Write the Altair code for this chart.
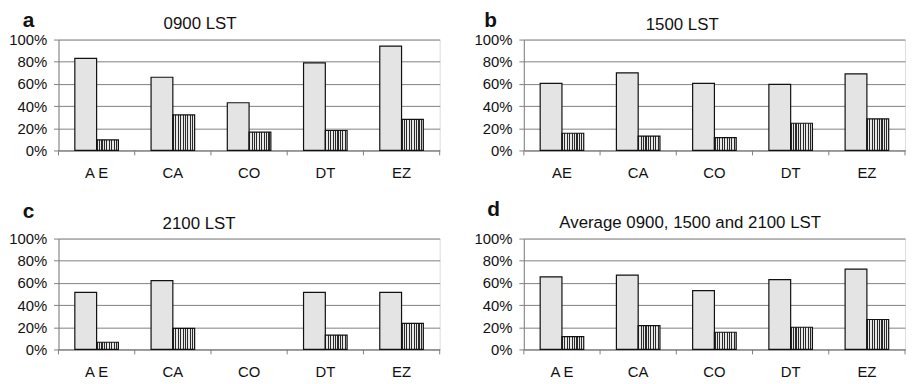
import altair as alt
import pandas as pd

sites = ["AE", "CA", "CO", "DT", "EZ"]
series = ["S1", "S2"]

a_light = [83, 66, 43, 79, 94]
a_dark = [9.5, 32, 16.5, 18, 28]
b_light = [60.5, 70, 60.5, 59.5, 69]
b_dark = [15.5, 13, 11.5, 24.5, 28.5]
c_light = [51.5, 62, None, 51.5, 51.5]
c_dark = [6.5, 19, None, 13, 23.5]
d_light = [65.5, 67, 53, 63, 72.5]
d_dark = [11.5, 21.5, 15.5, 20, 27]

panels = [
    ("a", "0900 LST", a_light, a_dark),
    ("b", "1500 LST", b_light, b_dark),
    ("c", "2100 LST", c_light, c_dark),
    ("d", "Average 0900, 1500 and 2100 LST", d_light, d_dark),
]

FONT = "Liberation Sans"
AX = "#808080"
H = 112

# text placement (style) per panel
style = {
    "a": dict(w=385, tx=143, ty=-11, lx=-36, ly=-12.5, spaced=True),
    "b": dict(w=385, tx=160, ty=-10, lx=-40, ly=-12.5, spaced=False),
    "c": dict(w=385, tx=142, ty=-9.5, lx=-36, ly=-21, spaced=True),
    "d": dict(w=385, tx=168, ty=-11, lx=-37, ly=-23, spaced=True),
}

n = 9
stops = []
for i in range(n):
    stops += [
        {"color": "#2a2a2a", "offset": i / n},
        {"color": "#2a2a2a", "offset": (i + 0.45) / n},
        {"color": "#e8e8e8", "offset": (i + 0.45) / n},
        {"color": "#e8e8e8", "offset": (i + 1) / n},
    ]
stripe = {"gradient": "linear", "x1": 0, "x2": 1, "y1": 0, "y2": 0, "stops": stops}


def panel(letter, title, light, dark):
    st = style[letter]
    w = st["w"]
    rows = []
    for s, l, d in zip(sites, light, dark):
        rows.append({"site": s, "series": "S1", "value": l})
        rows.append({"site": s, "series": "S2", "value": d})
    df = pd.DataFrame(rows)
    base = alt.Chart(df)
    lab = "datum.value == 'AE' ? 'A E' : datum.value" if st["spaced"] else "datum.value"
    x = alt.X("site:N", sort=sites, scale=alt.Scale(paddingInner=0, paddingOuter=0),
              axis=alt.Axis(title=None, labelAngle=0, ticks=False, tickSize=0, labelPadding=15,
                            labelFontSize=15, labelFont=FONT, labelColor="#111",
                            labelExpr=lab, domainColor=AX, grid=False))
    y = alt.Y("value:Q", scale=alt.Scale(domain=[0, 100], nice=False),
              axis=alt.Axis(title=None, values=[0, 20, 40, 60, 80, 100],
                            labelExpr="datum.value + '%'", tickSize=5, tickColor=AX,
                            labelPadding=7, labelFontSize=15, labelFont=FONT, labelColor="#111",
                            domainColor=AX, grid=True, gridColor=AX, minExtent=50))
    xo = alt.XOffset("series:N", scale=alt.Scale(domain=series, paddingOuter=0.75, paddingInner=0))
    light_bars = base.transform_filter("datum.series == 'S1' && isValid(datum.value)").mark_bar(
        fill="#e4e4e4", stroke="#111", strokeWidth=1.2).encode(x=x, y=y, xOffset=xo)
    dark_bars = base.transform_filter("datum.series == 'S2' && isValid(datum.value)").mark_bar(
        fill=stripe, stroke="#111", strokeWidth=1.2).encode(x=x, y=y, xOffset=xo)
    ticks = alt.Chart(pd.DataFrame({"site": sites})).mark_rule(color=AX).encode(
        x=alt.X("site:N", sort=sites, bandPosition=0),
        y=alt.value(H), y2=alt.value(H + 5))
    one = alt.Data(values=[{"k": 1}])
    end_tick = alt.Chart(one).mark_rule(color=AX).encode(
        x=alt.value(w), y=alt.value(H), y2=alt.value(H + 5))
    ttl = alt.Chart(one).mark_text(font=FONT, fontSize=17, align="center", baseline="alphabetic",
                                   color="#111").encode(
        x=alt.value(st["tx"]), y=alt.value(st["ty"]), text=alt.value(title))
    let = alt.Chart(one).mark_text(font=FONT, fontSize=21, fontWeight="bold", align="left",
                                   baseline="alphabetic", color="#111").encode(
        x=alt.value(st["lx"]), y=alt.value(st["ly"]), text=alt.value(letter))
    return alt.layer(light_bars, dark_bars, ticks, end_tick, ttl, let).properties(width=w, height=H)


charts = [panel(*p) for p in panels]
chart = alt.vconcat(
    alt.hconcat(charts[0], charts[1], spacing=33),
    alt.hconcat(charts[2], charts[3], spacing=33),
    spacing=17,
).properties(padding={"left": 0, "top": 0, "right": 0, "bottom": 0}).configure_view(
    stroke="#a0a0a0", strokeWidth=1
).configure(background="white")

chart.save("out.html", embed_options={"renderer": "svg", "actions": False})
